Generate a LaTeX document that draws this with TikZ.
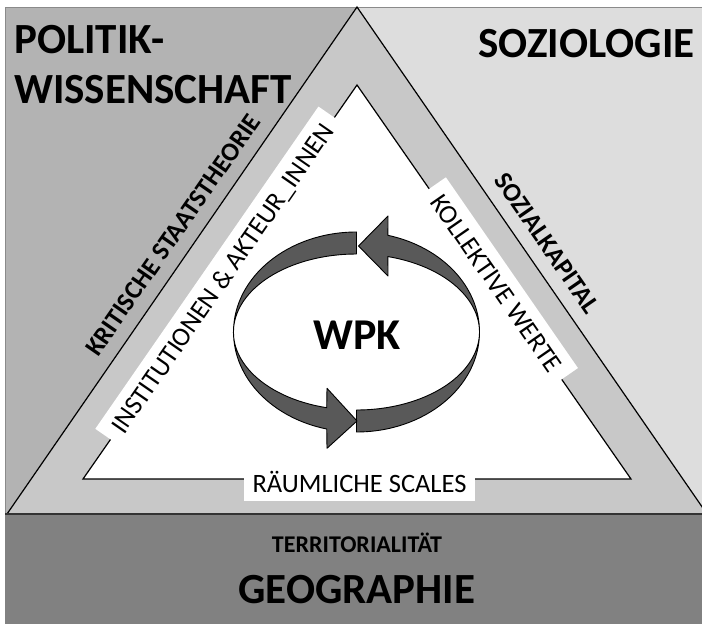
\documentclass[tikz,border=0pt]{standalone}
\usepackage{fontspec}
\setmainfont{Carlito}
\definecolor{leftgray}{HTML}{B3B3B3}
\definecolor{rightgray}{HTML}{DDDDDD}
\definecolor{bandgray}{HTML}{C8C8C8}
\definecolor{geogray}{HTML}{818181}
\definecolor{ringgray}{HTML}{595959}
\definecolor{framegray}{HTML}{8A8A8A}
\begin{document}
\begin{tikzpicture}[x=1pt,y=1pt,
  ringarrow/.style={fill=ringgray, draw=black, line width=0.9pt, line join=round},
  edgebox/.style={fill=white, inner sep=0pt, font=\fontsize{26.5}{30}\selectfont, text height=17pt, text depth=0pt},
  sidelabel/.style={inner sep=0pt, font=\bfseries\fontsize{26}{30}\selectfont},
  biglabel/.style={inner sep=0pt, font=\bfseries\fontsize{43}{50}\selectfont}]
\useasboundingbox (0,0) rectangle (702,624);
\fill[white] (0,0) rectangle (702,624);
% background regions
\fill[leftgray] (5,0) rectangle (357,617);
\fill[rightgray] (357,0) rectangle (702,617);
\draw[framegray, line width=0.8pt] (5,0) -- (5,617) -- (702,617);
% triangles
\draw[fill=bandgray, line width=1.2pt] (357,617) -- (7,110) -- (707,110) -- cycle;
\draw[fill=white, line width=1.2pt] (357,539) -- (83,145) -- (631,145) -- cycle;
% bottom band
\fill[geogray] (5,0) rectangle (702,110);
\draw[line width=1.6pt, black!80] (5,110) -- (702,110);
% edge boxes
\node[edgebox, rotate=55.3, minimum width=392pt, minimum height=38pt] (inst) at (222.5,345.5) {INSTITUTIONEN \& AKTEUR\_INNEN};
\node[edgebox, rotate=-55.3, minimum width=232pt, minimum height=38pt] (werte) at (496.3,340.5) {KOLLEKTIVE WERTE};
\node[edgebox, minimum width=231pt, minimum height=34pt] (scales) at (359.5,140) {RÄUMLICHE SCALES};
% side labels
\node[sidelabel, rotate=55.3] (staat) at (173,389) {KRITISCHE STAATSTHEORIE};
\node[sidelabel, rotate=-55.3] (sozkap) at (547,381) {SOZIALKAPITAL};
% big labels
\node[biglabel, anchor=west] (pol1) at (14,584) {POLITIK-};
\node[biglabel, anchor=west] (pol2) at (14,534) {WISSENSCHAFT};
\node[biglabel, anchor=east] (soz) at (695,580) {SOZIOLOGIE};
\node[inner sep=0pt, font=\bfseries\fontsize{24}{28}\selectfont] (terr) at (357,81) {TERRITORIALITÄT};
\node[biglabel] (geo) at (357,34) {GEOGRAPHIE};
% ring arrows
\draw[ringarrow] (356.5,192) arc[start angle=-90, end angle=75.2, x radius=123, y radius=100]
  -- (388,408) -- (358.5,378) -- (388,348) -- (387.9,367.4)
  arc[start angle=75.2, end angle=-90, x radius=123, y radius=78] -- cycle;
\draw[ringarrow] (356.5,392) arc[start angle=90, end angle=256, x radius=123, y radius=100]
  -- (327,175.7) -- (357,203) -- (327,235.7) -- (326.7,216.3)
  arc[start angle=256, end angle=90, x radius=123, y radius=78] -- cycle;
\node[biglabel, font=\bfseries\fontsize{44}{50}\selectfont] (wpk) at (357,289) {WPK};
\end{tikzpicture}
\end{document}
